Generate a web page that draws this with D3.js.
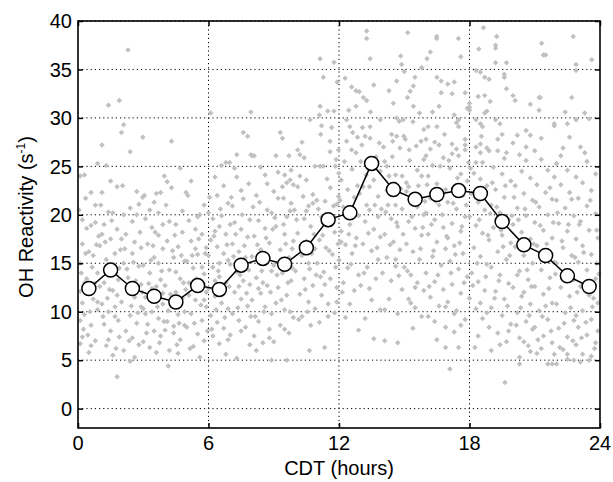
<!DOCTYPE html>
<html lang="en">
<head>
<meta charset="utf-8">
<title>OH Reactivity diurnal</title>
<script src="https://cdn.jsdelivr.net/npm/d3@7"></script>
<style>
  body { margin: 0; background: #fff; }
  text { font-family: "Liberation Sans", Arial, sans-serif; }
</style>
</head>
<body>
<script>
// hourly means (bin centres)
var meanHours = [0.5,1.5,2.5,3.5,4.5,5.5,6.5,7.5,8.5,9.5,10.5,11.5,12.5,13.5,14.5,15.5,16.5,17.5,18.5,19.5,20.5,21.5,22.5,23.5];
var meanValues = [12.4,14.3,12.4,11.6,11.0,12.7,12.3,14.8,15.5,14.9,16.6,19.5,20.2,25.3,22.6,21.6,22.1,22.5,22.2,19.3,16.9,15.8,13.7,12.6];

// individual measurements [hour, value]
var rawPoints = [
[0.1,24.0],[0.3,24.1],[0.2,17.0],[0.1,15.0],[0.4,18.6],[0.6,18.9],[0.5,16.2],[0.8,19.2],[0.9,25.3],[0.2,10.9],[0.1,9.1],[0.2,7.4],[0.1,6.7],[0.5,12.0],[0.7,11.3],[0.4,13.4],[0.9,14.0],[0.3,9.7],[0.6,8.6],[0.8,7.0],[0.9,10.2],[0.5,5.8],[0.3,13.0],[0.7,15.8],[0.2,19.5],[0.8,21.0],[0.6,22.3],[0.4,12.6],[0.9,11.0],[0.1,12.1],
[0.05,20.5],[0.35,21.7],[0.65,14.6],[0.85,16.9],[0.25,8.2],[0.55,10.0],[0.75,12.9],[0.45,7.6],[0.95,17.8],[0.15,14.0],[0.6,6.5],[0.35,16.0],
[1.1,27.2],[1.3,25.1],[1.1,22.3],[1.4,31.3],[1.9,31.8],[1.8,22.9],[1.4,20.3],[1.6,20.2],[1.2,19.0],[1.5,17.5],[1.0,16.8],[1.7,16.0],[1.3,15.4],[1.9,14.5],[1.2,13.0],[1.6,12.2],[1.8,11.7],[1.1,10.8],[1.4,10.0],[1.7,9.5],[1.2,8.7],[1.5,8.0],[1.9,7.4],[1.3,6.5],[1.6,5.5],[1.8,3.3],[1.0,12.6],[1.5,14.0],[1.8,18.5],[1.1,18.0],[1.7,10.5],[1.4,7.1],
[1.05,21.0],[1.25,17.2],[1.45,12.3],[1.65,14.8],[1.85,9.1],[1.35,11.4],[1.55,19.4],[1.75,6.2],[1.95,16.4],[1.15,9.5],[1.5,23.5],[1.85,13.3],
[2.1,29.3],[2.0,28.5],[2.3,37.0],[2.4,26.5],[2.1,20.0],[2.4,20.7],[2.7,22.4],[2.8,21.1],[2.97,21.8],[2.98,28.0],[2.2,18.0],[2.6,17.2],[2.9,16.6],[2.5,16.0],[2.1,15.0],[2.8,14.7],[2.3,13.5],[2.6,11.5],[2.0,11.0],[2.9,10.5],[2.4,9.6],[2.7,8.8],[2.2,8.0],[2.5,7.3],[2.8,6.6],[2.1,6.0],[2.6,5.3],[2.3,12.2],[2.9,12.8],[2.5,19.3],[2.0,17.5],
[2.05,23.0],[2.25,14.4],[2.45,10.6],[2.65,13.2],[2.85,18.2],[2.35,7.0],[2.55,15.1],[2.75,9.9],[2.95,12.0],[2.15,16.5],[2.7,20.0],[2.4,4.9],
[3.3,20.5],[3.5,21.3],[3.6,22.2],[3.8,22.3],[3.97,24.0],[3.1,19.6],[3.4,18.7],[3.7,17.9],[3.2,17.0],[3.9,16.5],[3.5,15.6],[3.0,14.8],[3.3,14.0],[3.8,13.3],[3.6,12.6],[3.1,11.5],[3.9,10.8],[3.4,10.0],[3.7,9.3],[3.2,8.7],[3.5,8.0],[3.8,7.5],[3.0,6.9],[3.3,6.3],[3.6,5.8],[3.9,11.9],[3.1,9.8],[3.7,15.0],[3.4,12.4],[3.9,19.0],
[3.05,22.0],[3.25,12.9],[3.45,16.8],[3.65,10.5],[3.85,14.2],[3.15,7.8],[3.55,18.2],[3.75,6.8],[3.95,9.0],[3.35,15.3],[3.0,10.3],[3.7,20.2],
[4.1,23.4],[4.3,22.8],[4.3,27.6],[4.97,22.3],[4.2,19.3],[4.5,19.0],[4.8,18.2],[4.1,17.3],[4.6,16.7],[4.4,15.6],[4.9,15.2],[4.2,14.3],[4.7,13.4],[4.0,12.7],[4.5,12.0],[4.8,11.4],[4.3,10.6],[4.6,9.7],[4.1,9.0],[4.9,8.6],[4.4,7.8],[4.7,7.1],[4.15,4.4],[4.2,6.0],[4.6,5.7],[4.9,10.0],[4.0,8.1],[4.5,14.1],[4.8,20.4],
[4.05,21.0],[4.25,11.8],[4.45,17.9],[4.65,8.8],[4.85,13.0],[4.35,16.3],[4.55,6.6],[4.75,15.8],[4.95,12.3],[4.15,10.1],[4.7,24.8],[4.4,8.5],
[5.6,20.0],[5.8,21.0],[5.1,19.4],[5.4,18.5],[5.7,18.0],[5.2,17.3],[5.9,16.6],[5.5,15.9],[5.0,15.2],[5.3,14.5],[5.8,13.9],[5.1,13.0],[5.6,12.3],[5.4,11.2],[5.9,10.5],[5.2,9.8],[5.7,9.1],[5.0,8.4],[5.5,7.7],[5.8,7.0],[5.3,6.4],[5.6,5.3],[5.1,11.7],[5.9,12.0],[5.4,16.5],[5.7,14.6],[5.2,23.5],
[5.05,22.0],[5.25,15.8],[5.45,13.4],[5.65,10.7],[5.85,16.0],[5.35,8.8],[5.55,17.5],[5.75,12.7],[5.95,8.0],[5.15,6.2],[5.5,19.8],[5.8,11.2],
[6.0,20.2],[6.1,30.5],[6.6,25.1],[6.8,25.4],[6.97,25.4],[6.3,23.9],[6.2,19.6],[6.5,18.8],[6.8,18.0],[6.1,17.4],[6.4,16.7],[6.7,16.0],[6.9,15.3],[6.2,14.6],[6.5,13.6],[6.8,13.0],[6.0,12.4],[6.3,11.6],[6.6,10.9],[6.9,10.3],[6.1,9.6],[6.4,8.9],[6.7,8.3],[6.2,7.5],[6.5,6.7],[6.8,5.6],[6.3,13.2],[6.6,19.9],[6.0,15.8],[6.9,21.2],[6.4,22.0],
[6.05,21.8],[6.25,17.8],[6.45,14.2],[6.65,12.1],[6.85,16.9],[6.35,10.2],[6.55,20.6],[6.75,9.4],[6.95,12.6],[6.15,8.2],[6.5,15.0],[6.9,7.1],[6.3,18.3],[6.7,23.0],
[7.6,28.5],[7.8,28.1],[7.95,30.6],[7.3,26.2],[7.95,26.2],[7.3,23.9],[7.6,21.65],[7.1,20.9],[7.9,6.6],[7.2,19.2],[7.5,18.5],[7.8,17.7],[7.1,17.0],[7.4,16.2],[7.7,15.6],[7.0,14.9],[7.3,14.1],[7.6,13.2],[7.9,12.8],[7.2,12.0],[7.5,11.3],[7.8,10.6],[7.1,9.8],[7.4,9.1],[7.7,8.4],[7.0,7.6],[7.3,5.2],[7.5,22.5],[7.9,19.5],[7.2,24.8],
[7.05,21.8],[7.25,18.0],[7.45,13.8],[7.65,16.8],[7.85,14.3],[7.35,10.4],[7.55,20.0],[7.75,11.9],[7.95,9.5],[7.15,15.7],[7.5,8.0],[7.85,23.2],[7.4,12.6],[7.0,19.0],
[8.0,26.1],[8.1,26.1],[8.6,24.1],[8.2,22.0],[9.0,22.4],[8.7,20.5],[8.9,20.2],[8.3,19.4],[8.6,18.6],[8.1,17.8],[8.8,17.1],[8.4,16.4],[8.0,15.7],[8.5,15.0],[8.9,14.2],[8.2,13.5],[8.7,12.7],[8.4,11.9],[8.0,11.2],[8.6,10.5],[8.9,9.8],[8.3,9.0],[8.8,8.2],[8.1,7.5],[8.5,6.8],[8.9,5.0],[8.3,12.4],[8.7,23.2],
[8.05,20.8],[8.25,16.9],[8.45,14.2],[8.65,17.6],[8.85,12.0],[8.35,21.3],[8.55,10.0],[8.75,15.6],[8.95,18.5],[8.15,9.5],[8.5,13.0],[8.8,7.3],[8.4,24.9],[8.2,6.0],
[9.3,28.5],[9.4,27.9],[9.7,26.1],[9.1,26.1],[9.5,24.1],[9.8,24.6],[9.75,23.6],[9.9,23.1],[9.6,23.3],[9.4,22.9],[9.2,21.7],[9.45,21.7],[9.8,21.2],[9.6,19.8],[9.75,20.4],[9.1,18.8],[9.5,18.0],[9.9,17.3],[9.3,16.4],[9.7,15.6],[9.0,14.8],[9.4,14.0],[9.8,13.2],[9.2,12.5],[9.6,11.7],[9.1,10.9],[9.5,10.2],[9.9,9.4],[9.3,8.6],[9.7,7.8],[9.6,5.0],[9.0,6.9],
[9.05,19.7],[9.25,15.1],[9.45,19.0],[9.65,13.0],[9.85,16.5],[9.35,11.2],[9.55,17.0],[9.75,10.0],[9.95,20.5],[9.15,13.8],[9.5,8.2],[9.85,14.5],[9.2,24.4],
[10.1,26.7],[10.2,26.2],[10.4,25.9],[10.2,24.0],[10.1,22.9],[10.8,22.1],[10.8,21.2],[10.6,20.9],[10.98,21.5],[10.67,29.8],[10.4,19.6],[10.7,18.8],[10.1,18.1],[10.5,17.3],[10.9,16.5],[10.3,15.8],[10.6,15.0],[10.0,14.2],[10.4,13.4],[10.8,12.7],[10.2,11.8],[10.6,11.0],[10.9,10.3],[10.3,9.5],[10.7,8.6],[10.64,6.0],[10.5,20.4],
[10.05,19.5],[10.25,16.8],[10.45,12.3],[10.65,14.4],[10.85,18.0],[10.35,21.9],[10.55,10.0],[10.75,16.0],[10.95,13.8],[10.15,9.2],[10.5,23.6],[10.9,25.0],[10.3,27.5],
[11.13,36.1],[11.28,34.2],[11.77,35.75],[11.92,33.7],[11.13,31.2],[11.48,30.7],[11.77,30.7],[11.1,30.3],[11.16,28.3],[11.2,29.2],[11.66,29.0],[11.59,27.6],[11.59,26.5],[11.97,26.7],[11.87,25.7],[11.13,25.0],[11.28,25.0],[11.84,25.0],[11.99,24.3],[11.36,21.4],[11.98,21.9],[11.9,21.1],[11.2,19.8],[11.5,18.9],[11.8,18.2],[11.1,17.4],[11.4,16.6],[11.7,15.9],[11.0,15.0],[11.3,14.1],[11.6,13.4],[11.9,12.5],[11.2,11.7],[11.5,10.8],[11.8,9.9],[11.1,8.9],[11.34,6.3],[11.6,22.8],
[11.05,20.6],[11.25,17.9],[11.45,23.7],[11.65,19.0],[11.85,14.6],[11.35,12.8],[11.55,16.3],[11.75,20.9],[11.95,17.0],[11.15,13.6],[11.5,9.5],[11.9,11.0],
[12.28,34.1],[12.58,33.2],[12.78,32.8],[12.93,32.7],[12.78,31.2],[12.35,29.8],[12.5,29.1],[12.63,28.5],[12.58,26.7],[12.78,26.4],[12.1,23.6],[12.4,22.6],[12.7,21.8],[12.2,20.8],[12.9,19.9],[12.5,19.0],[12.1,18.3],[12.8,17.6],[12.3,16.9],[12.6,16.0],[12.0,15.3],[12.4,14.5],[12.9,13.8],[12.2,13.0],[12.7,12.2],[12.5,10.8],[12.9,8.1],[12.3,9.4],[12.6,24.7],
[12.05,21.5],[12.25,25.5],[12.45,18.0],[12.65,20.4],[12.85,23.0],[12.35,27.6],[12.55,14.9],[12.75,16.8],[12.95,22.2],[12.15,12.0],[12.45,30.8],[12.85,28.0],[12.1,17.2],
[13.27,38.96],[13.27,38.2],[13.43,36.1],[13.12,32.1],[13.27,31.8],[13.08,29.0],[13.43,29.1],[13.2,28.1],[13.43,27.9],[13.1,22.9],[13.4,22.9],[13.27,21.0],[13.4,20.5],[13.7,26.0],[13.9,24.5],[13.6,23.6],[13.0,25.5],[13.8,21.9],[13.2,19.3],[13.6,18.5],[13.9,17.7],[13.1,17.0],[13.5,16.3],[13.8,15.4],[13.3,14.6],[13.7,13.4],[13.0,12.7],[13.5,11.2],[13.9,10.2],[13.6,7.2],[13.2,9.3],[13.8,19.8],
[13.05,27.2],[13.25,24.1],[13.45,30.6],[13.65,21.0],[13.85,27.4],[13.35,18.1],[13.55,25.0],[13.75,16.6],[13.95,20.6],[13.15,14.0],[13.6,33.4],[13.9,29.8],[13.4,12.4],
[14.84,36.4],[14.88,35.5],[15.0,34.8],[14.65,33.8],[14.65,30.0],[14.77,29.65],[14.95,29.8],[14.42,28.3],[14.65,28.1],[14.98,28.1],[14.47,27.6],[14.8,26.9],[14.1,25.5],[14.2,25.0],[14.3,24.0],[14.6,24.1],[14.9,24.0],[14.6,21.0],[14.9,20.6],[14.2,22.5],[14.4,19.6],[14.7,18.8],[14.1,18.0],[14.5,17.2],[14.8,16.4],[14.2,15.6],[14.6,14.7],[14.0,14.0],[14.4,13.2],[14.9,12.3],[14.3,11.3],[14.7,9.8],[14.1,7.0],[14.7,6.8],[14.5,31.5],
[14.05,27.0],[14.25,21.0],[14.45,26.0],[14.65,19.2],[14.85,22.7],[14.35,16.9],[14.55,23.2],[14.75,13.7],[14.95,18.0],[14.15,20.3],[14.3,32.8],[14.6,15.4],[14.1,10.2],
[15.16,38.8],[15.49,34.2],[15.42,33.3],[15.27,32.75],[15.15,32.1],[15.42,31.2],[15.23,26.7],[15.77,27.6],[15.1,23.3],[15.2,22.9],[15.1,22.4],[15.6,24.6],[15.8,24.0],[15.4,29.6],[15.7,30.5],[15.9,28.8],[15.3,21.5],[15.6,20.8],[15.9,20.0],[15.2,19.3],[15.5,18.6],[15.8,17.9],[15.1,17.0],[15.4,16.2],[15.7,15.4],[15.0,14.6],[15.3,13.8],[15.6,13.0],[15.9,12.2],[15.2,11.3],[15.5,10.4],[15.8,9.5],[15.4,8.3],[15.9,25.7],
[15.05,27.8],[15.25,25.6],[15.45,21.9],[15.65,23.0],[15.85,18.7],[15.35,19.8],[15.55,27.1],[15.75,16.5],[15.95,21.4],[15.15,14.2],[15.5,12.5],[15.8,35.2],[15.3,10.9],
[16.49,38.4],[16.49,38.2],[16.2,36.8],[16.05,36.1],[16.5,34.2],[16.7,33.8],[16.7,32.6],[16.1,29.1],[16.5,29.1],[16.0,27.8],[16.4,27.5],[16.6,27.2],[16.2,26.8],[16.0,26.1],[16.3,25.1],[16.8,25.9],[16.1,24.0],[16.5,23.2],[16.9,22.6],[16.2,21.7],[16.6,21.0],[16.0,20.2],[16.4,19.5],[16.8,18.7],[16.1,18.0],[16.5,17.2],[16.9,16.5],[16.3,15.7],[16.7,14.8],[16.0,14.0],[16.4,13.1],[16.8,12.3],[16.2,11.5],[16.6,10.6],[16.1,9.5],[16.9,8.4],[16.5,7.1],[16.9,6.3],[16.3,30.6],
[16.05,23.1],[16.25,19.0],[16.45,21.4],[16.65,25.0],[16.85,28.3],[16.35,16.3],[16.55,13.8],[16.75,20.0],[16.95,17.8],[16.15,12.6],[16.6,31.2],[16.9,10.5],[16.4,9.0],
[17.49,38.2],[17.6,36.3],[17.0,33.5],[17.3,33.7],[17.2,32.5],[17.8,32.6],[17.3,30.3],[17.5,29.8],[17.5,29.1],[17.4,29.5],[17.8,27.8],[17.8,27.2],[17.8,26.7],[17.2,27.3],[17.4,26.8],[17.2,26.3],[17.5,26.1],[17.1,24.8],[17.6,24.2],[17.9,23.5],[17.3,22.9],[17.7,22.0],[17.0,21.3],[17.4,20.6],[17.8,19.8],[17.2,19.1],[17.6,18.3],[17.0,17.6],[17.3,16.8],[17.7,16.0],[17.1,15.2],[17.5,14.4],[17.9,13.6],[17.2,12.8],[17.6,11.9],[17.0,11.0],[17.4,10.1],[17.8,9.2],[17.1,4.1],[17.5,6.3],[17.3,7.9],
[17.05,25.6],[17.25,21.2],[17.45,23.8],[17.65,18.8],[17.85,21.0],[17.35,15.9],[17.55,17.1],[17.75,13.0],[17.95,25.4],[17.15,14.0],[17.6,8.6],[17.9,31.0],[17.3,9.8],
[18.64,39.3],[18.43,37.1],[18.3,34.9],[18.5,34.7],[18.7,34.2],[18.9,34.0],[18.4,32.2],[18.7,32.3],[18.95,31.7],[18.0,30.8],[18.0,31.1],[18.0,31.5],[18.8,30.7],[18.7,30.5],[18.3,29.8],[18.5,29.4],[18.6,29.1],[18.5,27.3],[18.8,26.9],[18.9,26.6],[18.5,26.4],[18.3,25.4],[18.6,25.4],[18.2,24.3],[18.5,23.7],[18.8,23.0],[18.1,22.2],[18.4,21.3],[18.7,20.5],[18.0,19.8],[18.3,18.9],[18.6,18.1],[18.9,17.4],[18.2,16.6],[18.5,15.7],[18.8,14.9],[18.1,14.0],[18.4,13.1],[18.7,12.2],[18.0,11.4],[18.3,10.3],[18.6,9.3],[18.9,8.4],[18.25,6.3],[18.4,7.5],
[18.05,24.8],[18.25,21.8],[18.45,19.5],[18.65,22.7],[18.85,17.9],[18.35,15.0],[18.55,28.1],[18.75,13.6],[18.95,20.1],[18.15,12.7],[18.5,10.9],[18.8,9.9],[18.3,27.0],
[19.25,38.4],[19.2,37.5],[19.2,37.2],[19.2,35.7],[19.7,35.7],[19.6,34.5],[19.6,34.2],[19.7,33.0],[19.2,29.8],[19.4,29.4],[19.3,27.8],[19.3,26.6],[19.7,26.4],[19.6,25.8],[19.1,24.9],[19.5,24.2],[19.9,23.5],[19.2,22.6],[19.6,21.8],[19.0,21.0],[19.4,20.2],[19.8,19.5],[19.1,18.7],[19.5,17.9],[19.9,17.1],[19.3,16.2],[19.7,15.4],[19.0,14.6],[19.4,13.8],[19.8,12.9],[19.2,12.1],[19.6,11.3],[19.0,10.4],[19.5,9.6],[19.9,8.7],[19.3,7.8],[19.0,6.0],[19.63,2.7],[19.7,6.9],
[19.05,23.3],[19.25,20.8],[19.45,18.4],[19.65,23.0],[19.85,15.8],[19.35,13.2],[19.55,16.7],[19.75,10.6],[19.95,19.9],[19.15,11.4],[19.5,28.3],[19.8,8.0],[19.4,6.6],
[20.0,32.3],[20.1,31.8],[20.8,31.4],[20.2,28.2],[20.6,28.7],[20.8,28.2],[20.0,27.4],[20.3,26.2],[20.6,27.0],[20.4,24.5],[20.8,23.8],[20.1,23.0],[20.5,22.2],[20.9,21.5],[20.2,20.7],[20.6,19.9],[20.0,19.0],[20.4,18.2],[20.8,17.5],[20.1,16.7],[20.5,15.8],[20.9,15.0],[20.3,14.2],[20.7,13.3],[20.0,12.5],[20.4,11.6],[20.8,10.8],[20.2,9.9],[20.6,9.0],[20.9,8.2],[20.3,7.3],[20.7,6.5],[20.3,4.6],[20.3,5.3],[20.5,12.0],
[20.05,21.8],[20.25,19.5],[20.45,16.9],[20.65,14.3],[20.85,12.6],[20.35,10.4],[20.55,20.6],[20.75,9.6],[20.95,17.0],[20.15,8.6],[20.5,6.9],[20.8,5.9],[20.2,13.8],[20.6,25.6],
[21.32,37.7],[21.4,36.5],[21.5,36.5],[21.2,32.1],[21.25,32.1],[21.2,30.8],[21.9,29.4],[21.9,29.2],[21.0,26.6],[21.3,25.7],[21.6,24.6],[21.9,23.9],[21.1,23.1],[21.5,22.3],[21.8,21.6],[21.2,20.8],[21.6,20.0],[21.0,19.2],[21.4,18.4],[21.8,17.6],[21.1,16.8],[21.5,16.0],[21.9,15.1],[21.3,14.3],[21.7,13.5],[21.0,12.6],[21.4,11.8],[21.8,10.9],[21.2,10.1],[21.6,9.2],[21.0,8.4],[21.4,7.5],[21.8,6.8],[21.3,6.2],[21.6,4.6],[21.8,4.6],[21.1,5.7],
[21.05,21.3],[21.25,18.9],[21.45,15.4],[21.65,12.4],[21.85,19.2],[21.35,9.5],[21.55,17.0],[21.75,8.0],[21.95,13.9],[21.15,7.1],[21.5,10.6],[21.9,5.6],[21.3,27.9],[21.7,22.8],
[22.77,38.4],[22.9,35.5],[22.9,34.9],[22.7,32.1],[22.4,30.6],[22.5,29.4],[22.9,29.8],[22.6,28.0],[22.2,26.1],[22.0,25.3],[22.5,24.6],[22.9,23.9],[22.2,23.1],[22.6,22.3],[22.0,21.5],[22.4,20.7],[22.8,19.9],[22.1,19.1],[22.5,18.3],[22.9,17.5],[22.3,16.6],[22.7,15.8],[22.0,15.0],[22.4,14.1],[22.8,13.3],[22.2,12.5],[22.6,11.6],[22.0,10.8],[22.4,9.9],[22.8,9.1],[22.1,8.3],[22.5,7.4],[22.9,6.6],[22.0,4.6],[22.5,5.6],[22.8,5.0],[22.3,6.1],
[22.05,20.2],[22.25,17.3],[22.45,13.2],[22.65,10.4],[22.85,15.6],[22.35,8.8],[22.55,19.0],[22.75,7.0],[22.95,12.0],[22.15,6.3],[22.5,5.1],[22.9,9.6],[22.3,26.9],[22.7,21.6],
[23.62,36.0],[23.5,29.9],[23.1,27.0],[23.4,25.5],[23.8,24.2],[23.2,23.3],[23.6,22.5],[23.0,21.7],[23.4,20.9],[23.8,20.1],[23.1,19.3],[23.5,18.4],[23.9,17.6],[23.2,16.8],[23.6,15.9],[23.0,15.1],[23.4,14.3],[23.8,13.4],[23.1,12.6],[23.5,11.7],[23.9,10.9],[23.2,10.1],[23.6,9.2],[23.0,8.4],[23.4,7.6],[23.8,6.8],[23.2,5.6],[23.1,4.8],[23.6,5.4],[23.9,8.0],[23.3,30.5],
[23.05,19.0],[23.25,16.1],[23.45,12.8],[23.65,10.5],[23.85,15.0],[23.35,8.9],[23.55,21.5],[23.75,6.2],[23.95,13.9],[23.15,7.3],[23.5,5.0],[23.85,18.4],[23.3,26.4],[23.7,11.4]
];

var xTicks = [0, 6, 12, 18, 24];
var yTicks = [0, 5, 10, 15, 20, 25, 30, 35, 40];

var w = 613, h = 482;
var mLeft = 78, mRight = 600, mTop = 21, mBottom = 428;

var svg = d3.select("body").append("svg")
  .attr("width", w).attr("height", h);

var x = d3.scaleLinear().domain([0, 24]).range([mLeft, mRight]);
var y = d3.scaleLinear().domain([-2, 40]).range([mBottom, mTop]);

// dotted grid
svg.append("g").selectAll("line").data(yTicks).enter().append("line")
  .attr("x1", mLeft).attr("x2", mRight)
  .attr("y1", function(d) { return y(d); }).attr("y2", function(d) { return y(d); })
  .attr("stroke", "#000").attr("stroke-width", 1).attr("stroke-dasharray", "1.2,3");
svg.append("g").selectAll("line").data([6, 12, 18]).enter().append("line")
  .attr("y1", mTop).attr("y2", mBottom)
  .attr("x1", function(d) { return x(d); }).attr("x2", function(d) { return x(d); })
  .attr("stroke", "#000").attr("stroke-width", 1).attr("stroke-dasharray", "1.2,3");

// raw points as small diamonds (square rotated 45deg)
var diamond = d3.symbol().type(d3.symbolSquare).size(15);
svg.append("g").selectAll("path").data(rawPoints).enter().append("path")
  .attr("d", diamond)
  .attr("transform", function(d) { return "translate(" + x(d[0]) + "," + y(d[1]) + ") rotate(45)"; })
  .attr("fill", "#c0c0c0");

// inward ticks, all four sides
var ax = svg.append("g").attr("class", "axes");
ax.append("g").attr("transform", "translate(0," + mBottom + ")")
  .call(d3.axisTop(x).tickValues(xTicks).tickSize(5).tickFormat(""));
ax.append("g").attr("transform", "translate(0," + mTop + ")")
  .call(d3.axisBottom(x).tickValues(xTicks).tickSize(5).tickFormat(""));
ax.append("g").attr("transform", "translate(" + mLeft + ",0)")
  .call(d3.axisRight(y).tickValues(yTicks).tickSize(5).tickFormat(""));
ax.append("g").attr("transform", "translate(" + mRight + ",0)")
  .call(d3.axisLeft(y).tickValues(yTicks).tickSize(5).tickFormat(""));
ax.selectAll(".domain").remove();
ax.selectAll("line").attr("stroke", "#000").attr("stroke-width", 1.5);

// frame
svg.append("rect")
  .attr("x", mLeft).attr("y", mTop)
  .attr("width", mRight - mLeft).attr("height", mBottom - mTop)
  .attr("fill", "none").attr("stroke", "#000").attr("stroke-width", 1.6);

// tick labels
svg.append("g").selectAll("text").data(yTicks).enter().append("text")
  .attr("x", mLeft - 6).attr("y", function(d) { return y(d); })
  .attr("dy", "0.36em").attr("text-anchor", "end")
  .attr("font-size", "20px").attr("fill", "#000")
  .text(function(d) { return d; });
svg.append("g").selectAll("text").data(xTicks).enter().append("text")
  .attr("x", function(d) { return x(d); }).attr("y", mBottom + 22)
  .attr("text-anchor", "middle")
  .attr("font-size", "20px").attr("fill", "#000")
  .text(function(d) { return d; });

// axis labels
svg.append("text")
  .attr("x", 339).attr("y", 475)
  .attr("text-anchor", "middle").attr("font-size", "20px")
  .text("CDT (hours)");

var yl = svg.append("text")
  .attr("transform", "translate(33,217) rotate(-90)")
  .attr("text-anchor", "middle").attr("font-size", "20px");
yl.append("tspan").text("OH Reactivity (s");
yl.append("tspan").attr("font-size", "12px").attr("dy", "-8").text("-1");
yl.append("tspan").attr("dy", "8").text(")");

// mean line with open circles
var meanData = meanHours.map(function(hh, i) { return [hh, meanValues[i]]; });
svg.append("path").datum(meanData)
  .attr("d", d3.line().x(function(d) { return x(d[0]); }).y(function(d) { return y(d[1]); }))
  .attr("fill", "none").attr("stroke", "#000").attr("stroke-width", 1.5);
svg.append("g").selectAll("circle").data(meanData).enter().append("circle")
  .attr("cx", function(d) { return x(d[0]); })
  .attr("cy", function(d) { return y(d[1]); })
  .attr("r", 7)
  .attr("fill", "#fff").attr("stroke", "#000").attr("stroke-width", 1.5);
</script>
</body>
</html>
